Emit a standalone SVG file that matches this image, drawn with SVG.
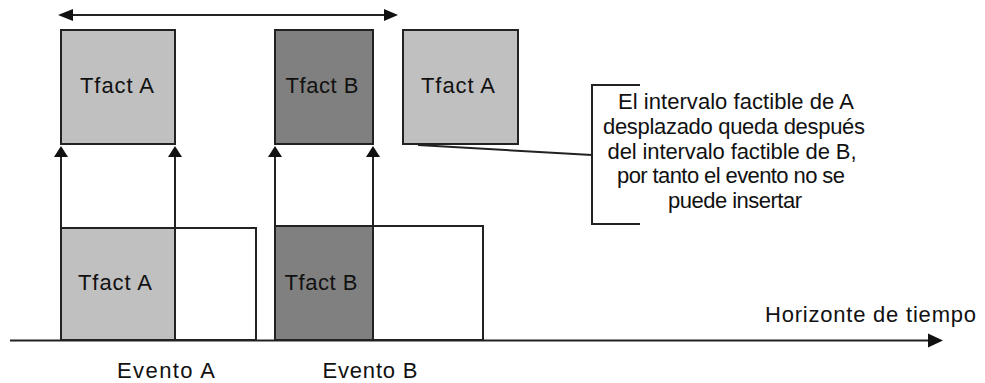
<svg xmlns="http://www.w3.org/2000/svg" width="985" height="383" viewBox="0 0 985 383">
  <style>
    .box { stroke: #222; stroke-width: 2; }
    .light { fill: #c0c0c0; }
    .dark { fill: #808080; }
    .empty { fill: #ffffff; }
    .line { stroke: #222; stroke-width: 2; fill: none; }
    .head { fill: #111; }
    text { font-family: "Liberation Sans", Arial, sans-serif; font-size: 22px; fill: #111; }
    .mid { text-anchor: middle; }
  </style>
  <rect width="985" height="383" fill="#ffffff"/>

  <!-- top row: feasible intervals -->
  <g id="tfact-a-top">
    <rect class="box light" x="61" y="30" width="114" height="114"/>
    <text class="mid" x="117" y="93" textLength="74">Tfact A</text>
  </g>
  <g id="tfact-b-top">
    <rect class="box dark" x="275" y="30" width="98" height="114"/>
    <text class="mid" x="322" y="93" textLength="73">Tfact B</text>
  </g>
  <g id="tfact-a-shifted">
    <rect class="box light" x="403" y="30" width="115" height="114"/>
    <text class="mid" x="458" y="93" textLength="74">Tfact A</text>
  </g>

  <!-- bottom row: events on the time line -->
  <g id="evento-a">
    <rect class="box empty" x="175" y="228" width="81" height="112"/>
    <rect class="box light" x="61" y="228" width="114" height="112"/>
    <text class="mid" x="115" y="290" textLength="74">Tfact A</text>
    <text class="mid" x="166" y="378" textLength="98">Evento A</text>
  </g>
  <g id="evento-b">
    <rect class="box empty" x="373" y="226" width="110" height="114"/>
    <rect class="box dark" x="275" y="226" width="98" height="114"/>
    <text class="mid" x="321" y="290" textLength="73">Tfact B</text>
    <text class="mid" x="370" y="378" textLength="95">Evento B</text>
  </g>

  <!-- note -->
  <g id="nota">
    <path class="line" d="M640,85 H592 V224 H640"/>
    <text class="mid" x="736" y="109" textLength="236">El intervalo factible de A</text>
    <text class="mid" x="734" y="134" textLength="262">desplazado queda después</text>
    <text class="mid" x="732" y="159" textLength="249">del intervalo factible de B,</text>
    <text class="mid" x="731" y="183" textLength="228">por tanto el evento no se</text>
    <text class="mid" x="735" y="208" textLength="134">puede insertar</text>
  </g>

  <g id="horizonte">
    <text x="765" y="322" textLength="211">Horizonte de tiempo</text>
  </g>

  <!-- connectors -->
  <g id="connectors">
    <!-- span arrow -->
    <line class="line" x1="70" y1="15" x2="388" y2="15"/>
    <polygon class="head" points="58,15 73,9 73,21"/>
    <polygon class="head" points="398,15 384,9 384,21"/>

    <!-- time axis -->
    <line class="line" x1="10" y1="340.5" x2="932" y2="340.5"/>
    <polygon class="head" points="943,340.5 928,333.5 928,347.5"/>

    <!-- interval projections -->
    <line class="line" x1="61" y1="156" x2="61" y2="228"/>
    <line class="line" x1="175" y1="156" x2="175" y2="228"/>
    <line class="line" x1="275" y1="156" x2="275" y2="226"/>
    <line class="line" x1="373" y1="156" x2="373" y2="226"/>
    <polygon class="head" points="61,146 54,157 68,157"/>
    <polygon class="head" points="175,146 168,157 182,157"/>
    <polygon class="head" points="275,146 268,157 282,157"/>
    <polygon class="head" points="373,146 366,157 380,157"/>

    <!-- note leader -->
    <line class="line" x1="418" y1="145" x2="592" y2="155"/>
  </g>
</svg>
